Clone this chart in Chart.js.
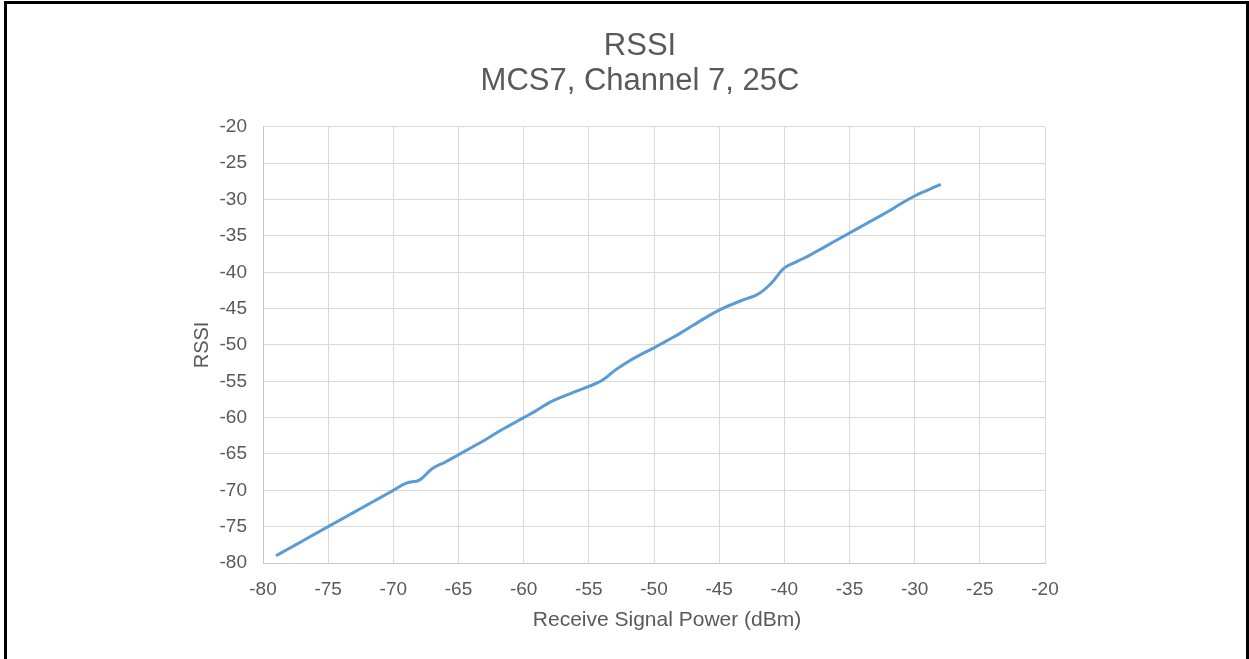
<!DOCTYPE html>
<html>
<head>
<meta charset="utf-8">
<script src="https://cdn.jsdelivr.net/npm/chart.js@4/dist/chart.umd.min.js"></script>
<style>
  html, body { margin: 0; padding: 0; background: #fff; }
  #wrap { position: relative; width: 1249px; height: 659px; overflow: hidden; }
  #frame { position: absolute; left: 4px; top: 1px; width: 1239px; height: 670px;
           border-left: 3px solid #000; border-top: 3px solid #000; border-right: 3px solid #000; }
  canvas { position: absolute; left: 0; top: 0; }
</style>
</head>
<body>
<div id="wrap">
  <canvas id="rssiChart" width="1249" height="659"></canvas>
  <div id="frame"></div>
</div>
<script>
const rxPower = [-79, -78, -77, -76, -75, -74, -73, -72, -71, -70,
                 -69, -68, -67, -66, -65, -64, -63, -62, -61, -60,
                 -59, -58, -57, -56, -55, -54, -53, -52, -51, -50,
                 -49, -48, -47, -46, -45, -44, -43, -42, -41, -40,
                 -39, -38, -37, -36, -35, -34, -33, -32, -31, -30,
                 -29, -28];
const rssi = [-79, -78, -77, -76, -75, -74, -73, -72, -71, -70,
              -69, -68.6, -67, -66.1, -65.1, -64.1, -63.1, -62, -61, -60,
              -59, -57.9, -57.1, -56.4, -55.7, -54.9, -53.5, -52.3, -51.3, -50.4,
              -49.4, -48.4, -47.3, -46.2, -45.2, -44.4, -43.7, -43.0, -41.5, -39.4,
              -38.5, -37.6, -36.6, -35.6, -34.6, -33.6, -32.6, -31.6, -30.5, -29.5,
              -28.7, -27.9];
const axisTicks = [-80, -75, -70, -65, -60, -55, -50, -45, -40, -35, -30, -25, -20];

const textColor = '#595959';
const gridColor = '#d9d9d9';
const fontFamily = 'Liberation Sans, Arial, sans-serif';

// the original titles sit a little right of the plot centre
const nudgeTitles = {
  id: 'nudgeTitles',
  afterLayout(chart) {
    const t = chart.titleBlock;
    if (t) { t.left = 235; t.right = 1045; }
    const xs = chart.scales.x;
    if (xs && !xs._nudged) {
      const orig = xs.drawTitle;
      xs.drawTitle = function () {
        this.left += 13; this.right += 13;
        orig.apply(this, arguments);
        this.left -= 13; this.right -= 13;
      };
      xs._nudged = true;
    }
  }
};

new Chart(document.getElementById('rssiChart'), {
  type: 'line',
  data: {
    datasets: [{
      label: 'RSSI',
      data: rxPower.map((x, i) => ({ x: x, y: rssi[i] })),
      borderColor: '#5b9bd5',
      borderWidth: 3,
      pointRadius: 0,
      tension: 0.4,
      fill: false
    }]
  },
  plugins: [nudgeTitles],
  options: {
    responsive: false,
    animation: false,
    layout: { padding: { left: 190, right: 204, top: 0, bottom: 26 } },
    plugins: {
      legend: { display: false },
      tooltip: { enabled: false },
      title: {
        display: true,
        text: ['RSSI', 'MCS7, Channel 7, 25C'],
        color: textColor,
        font: { family: fontFamily, size: 31, weight: 'normal', lineHeight: 1.16 },
        padding: { top: 28, bottom: 27 }
      }
    },
    scales: {
      x: {
        type: 'linear',
        min: -80,
        max: -20,
        afterBuildTicks: s => { s.ticks = axisTicks.map(v => ({ value: v })); },
        afterFit: s => { s.height = 70; },
        ticks: { color: textColor, padding: 15, font: { family: fontFamily, size: 19 } },
        grid: { color: gridColor, drawTicks: false },
        border: { color: '#c8c8c8' },
        title: {
          display: true,
          text: 'Receive Signal Power (dBm)',
          color: textColor,
          padding: 0,
          font: { family: fontFamily, size: 21 }
        }
      },
      y: {
        type: 'linear',
        min: -80,
        max: -20,
        afterBuildTicks: s => { s.ticks = axisTicks.map(v => ({ value: v })); },
        afterFit: s => { s.width = 73; },
        ticks: { color: textColor, padding: 16, font: { family: fontFamily, size: 19 } },
        grid: { color: gridColor, drawTicks: false },
        border: { color: '#c8c8c8' },
        title: {
          display: true,
          text: 'RSSI',
          color: textColor,
          padding: 0,
          font: { family: fontFamily, size: 20 }
        }
      }
    }
  }
});
</script>
</body>
</html>
